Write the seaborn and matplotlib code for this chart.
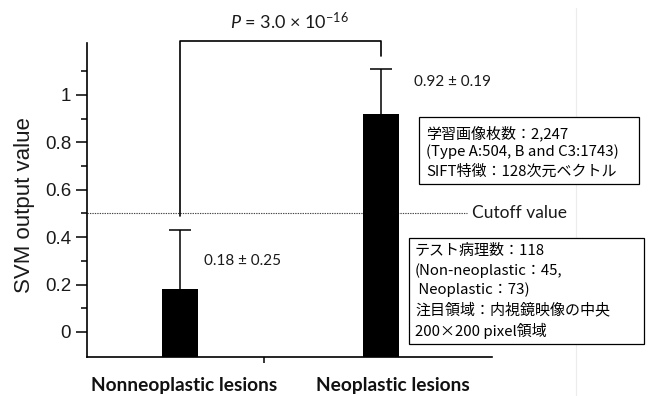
import matplotlib
matplotlib.use("Agg")
import numpy as np
import pandas as pd
import matplotlib.pyplot as plt
import seaborn as sns
from matplotlib.patches import Rectangle
from matplotlib.lines import Line2D

# ---- data ----
categories = ["Nonneoplastic lesions", "Neoplastic lesions"]
means = [0.18, 0.92]
sds = [0.25, 0.19]
cutoff = 0.5
p_label = r"$\it{P}$ = 3.0 × 10$^{-16}$"
y_ticks = [0, 0.2, 0.4, 0.6, 0.8, 1.0]
y_tick_labels = ["0", "0.2", "0.4", "0.6", "0.8", "1"]
y_minor = [0.1, 0.3, 0.5, 0.7, 0.9, 1.1]
train_lines = ["学習画像枚数：2,247",
               "(Type A:504, B and C3:1743)",
               "SIFT特徴：128次元ベクトル"]
test_lines = ["テスト病理数：118",
              "(Non-neoplastic：45,",
              " Neoplastic：73)",
              "注目領域：内視鏡映像の中央",
              "200×200 pixel領域"]

sns.set_style("ticks")
plt.rcParams["font.family"] = ["Lato", "Noto Sans CJK JP", "DejaVu Sans"]
plt.rcParams["mathtext.fontset"] = "custom"
plt.rcParams["mathtext.rm"] = "Lato"
plt.rcParams["mathtext.it"] = "Lato:italic"

W, H = 649, 396
fig = plt.figure(figsize=(W / 100, H / 100), dpi=100)
fig.patch.set_facecolor("white")
ax = fig.add_axes([87 / W, 1 - 357 / H, (492 - 87) / W, (357 - 43) / H])

y_lo, y_hi = -0.1055, 1.2194

df = pd.DataFrame({"group": categories, "value": means})
sns.barplot(data=df, x="group", y="value", color="black", saturation=1,
            width=0.179, errorbar=None, ax=ax, edgecolor="black", linewidth=0,
            zorder=2)

# bars rise from the floor of the axis
for patch, val in zip(ax.patches, means):
    patch.set_y(y_lo)
    patch.set_height(val - y_lo)

xs = [p.get_x() + p.get_width() / 2 for p in ax.patches]
_, caps, _ = ax.errorbar(xs, means, yerr=[np.zeros(len(sds)), sds],
                         fmt="none", ecolor="black", elinewidth=1.1,
                         capsize=8, capthick=1.1, zorder=3)
# keep only the upper caps
for cap in caps:
    if np.allclose(cap.get_ydata(), means):
        cap.set_visible(False)

ax.set_xlim(-0.463, 1.552)
ax.set_ylim(y_lo, y_hi)

# axes styling
for side in ("top", "right"):
    ax.spines[side].set_visible(False)
for side in ("left", "bottom"):
    ax.spines[side].set_linewidth(1.2)
    ax.spines[side].set_color("black")

ax.set_yticks(y_ticks)
ax.set_yticklabels(y_tick_labels, family="Liberation Sans", fontsize=13.5,
                   color="#1a1a1a")
ax.set_yticks(y_minor, minor=True)
ax.tick_params(axis="y", which="major", length=8, width=1.1, pad=3.5,
               direction="out", color="black")
ax.tick_params(axis="y", which="minor", length=4, width=1.1, direction="out",
               color="black")
ax.set_xticks([0.418])
ax.set_xticklabels([""])
ax.tick_params(axis="x", which="major", length=4.5, width=1.1,
               direction="out", color="black")
ax.set_xlabel("")
ax.set_ylabel("SVM output value", family="Liberation Sans", fontsize=16,
              color="#1a1a1a")
ax.yaxis.set_label_coords(-0.129, 0.484)

# category labels
label_x = [0.022, 1.06]
for xpos, name in zip(label_x, categories):
    ax.text(xpos, -0.224, name, ha="center", va="center", fontsize=13.8,
            fontweight="bold", color="#111111", clip_on=False)

# cutoff line
ax.plot([ax.get_xlim()[0], 1.428], [cutoff, cutoff], color="#444444",
        lw=0.8, ls=(0, (1.2, 1.0)), zorder=1)
ax.text(1.453, cutoff, "Cutoff value", ha="left", va="center",
        fontsize=12.5, color="#1a1a1a", clip_on=False)

# significance bracket
ax.plot([xs[0], xs[0], xs[1], xs[1]], [0.49, 1.228, 1.228, 1.165],
        color="black", lw=1.2, clip_on=False, zorder=3)
ax.text(0.542, 1.312, p_label, ha="center", va="center", fontsize=13,
        color="#1a1a1a", clip_on=False)

# mean ± sd annotations
ax.text(0.119, 0.30, f"{means[0]:.2f} ± {sds[0]:.2f}", ha="left",
        va="center", fontsize=11, color="#1a1a1a")
ax.text(1.164, 1.055, f"{means[1]:.2f} ± {sds[1]:.2f}", ha="left",
        va="center", fontsize=11, color="#1a1a1a")

# info boxes (figure pixel layout)
def px(x, y):
    return x / W, 1 - y / H

def info_box(x0, y0, x1, y1, tx, line_ys, lines):
    bx, by = px(x0, y1)
    fig.add_artist(Rectangle((bx, by), (x1 - x0) / W, (y1 - y0) / H,
                             transform=fig.transFigure, facecolor="white",
                             edgecolor="black", lw=0.9, zorder=5))
    for ly, txt in zip(line_ys, lines):
        fx, fy = px(tx, ly)
        fig.text(fx, fy, txt, ha="left", va="center", fontsize=10.8,
                 family=["Noto Sans CJK JP", "DejaVu Sans"], color="black",
                 zorder=6)

info_box(419, 117, 639, 184, 426, [133, 152, 172], train_lines)
info_box(409, 238, 644, 344, 415, [251, 271, 290, 310, 331], test_lines)

# faint page edge
fx0, _ = px(576, 0)
fig.add_artist(Line2D([fx0, fx0], [0, 1 - 8 / H], transform=fig.transFigure,
                      color="#ececec", lw=0.8, zorder=0))

fig.savefig("out.png", dpi=100, facecolor="white")
